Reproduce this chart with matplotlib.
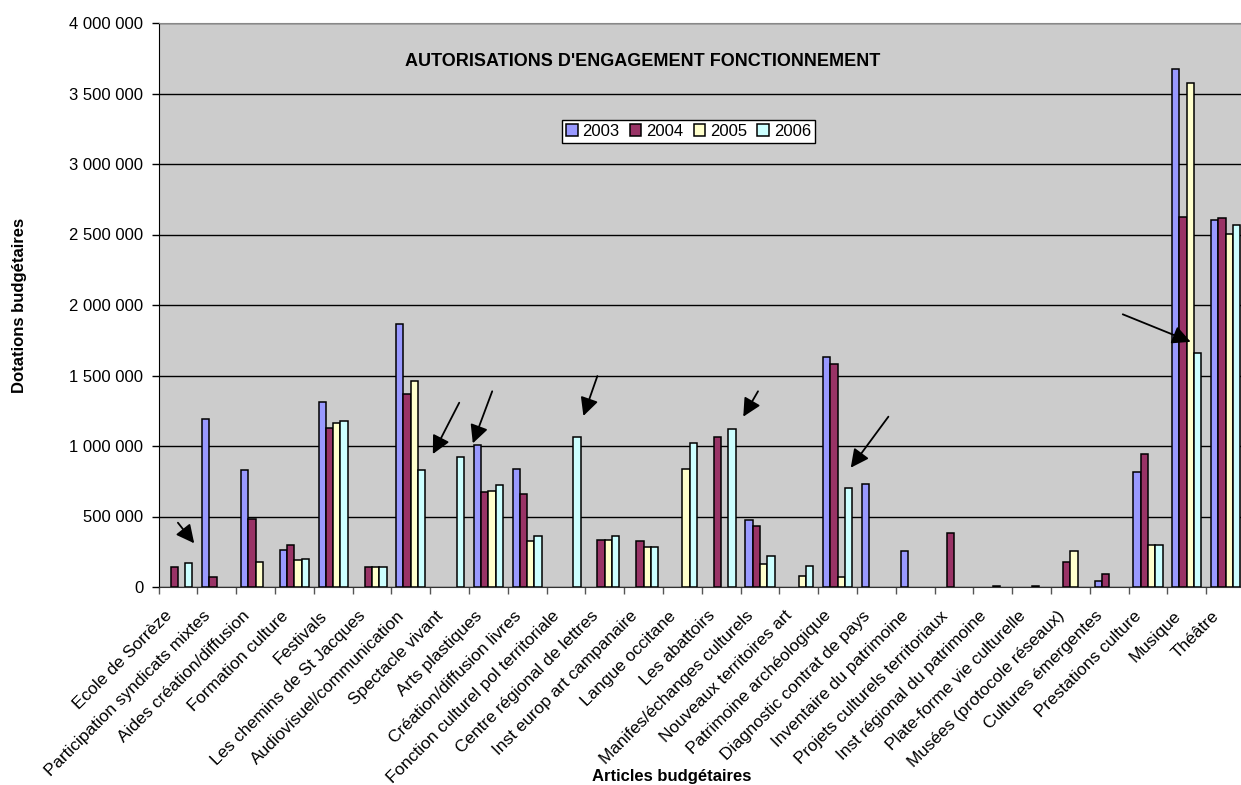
import matplotlib
matplotlib.use("Agg")
import matplotlib.pyplot as plt
from matplotlib.ticker import FuncFormatter
from matplotlib.transforms import ScaledTranslation
import numpy as np

plt.rcParams['font.family'] = ['Liberation Sans', 'DejaVu Sans']

# budget lines
categories = [
    "Ecole de Sorrèze", "Participation syndicats mixtes", "Aides création/diffusion",
    "Formation culture", "Festivals", "Les chemins de St Jacques",
    "Audiovisuel/communication", "Spectacle vivant", "Arts plastiques",
    "Création/diffusion livres", "Fonction culturel pol territoriale",
    "Centre régional de lettres", "Inst europ art campanaire", "Langue occitane",
    "Les abattoirs", "Manifes/échanges culturels", "Nouveaux territoires art",
    "Patrimoine archéologique", "Diagnostic contrat de pays",
    "Inventaire du patrimoine", "Projets culturels territoriaux",
    "Inst régional du patrimoine", "Plate-forme vie culturelle",
    "Musées (protocole réseaux)", "Cultures émergentes", "Prestations culture",
    "Musique", "Théâtre",
]
years = ["2003", "2004", "2005", "2006"]

v2003 = [0, 1189000, 830000, 265000, 1314000, 0, 1863000, 0, 1009000, 837000,
         0, 0, 0, 0, 0, 473000, 0, 1631000, 733000, 258000, 0, 0, 0, 0,
         46000, 815000, 3676000, 2603000]
v2004 = [144000, 71000, 485000, 298000, 1125000, 144000, 1371000, 0, 674000, 660000,
         0, 331000, 324000, 0, 1066000, 433000, 0, 1584000, 0, 0, 385000, 0, 0, 177000,
         91000, 942000, 2625000, 2620000]
v2005 = [0, 0, 180000, 189000, 1165000, 144000, 1459000, 0, 679000, 324000,
         0, 331000, 286000, 837000, 0, 161000, 78000, 71000, 0, 0, 0, 4000, 4000, 253000,
         0, 296000, 3577000, 2501000]
v2006 = [172000, 0, 0, 201000, 1180000, 144000, 827000, 924000, 726000, 364000,
         1064000, 359000, 286000, 1019000, 1123000, 222000, 147000, 704000, 0, 0, 0, 0, 0, 0,
         0, 296000, 1661000, 2570000]

colors = ["#9999FF", "#993366", "#FFFFCC", "#CCFFFF"]

# arrows drawn on the chart: (tail x, tail y, head x, head y) in data units
arrows = [
    (0.0, 456000, 0.42, 310000),
    (7.25, 1307000, 6.57, 943000),
    (8.10, 1388000, 7.60, 1019000),
    (10.81, 1496000, 10.45, 1213000),
    (14.95, 1388000, 14.57, 1208000),
    (18.31, 1208000, 17.34, 846000),
    (24.35, 1934000, 26.10, 1739000),
]

fig = plt.figure(figsize=(12.41, 7.85), dpi=100)
ax = fig.add_axes([158.5 / 1241, 198 / 785, (1245 - 158.5) / 1241, 564 / 785])
ax.set_facecolor("#CCCCCC")

x = np.arange(len(categories))
w = 0.188
for k, vals in enumerate([v2003, v2004, v2005, v2006]):
    vals = np.array(vals)
    keep = vals > 0  # empty lines get no bar at all
    ax.bar(x[keep] + (k - 1.5) * w, vals[keep], width=w, color=colors[k],
           edgecolor="black", linewidth=1.1, label=years[k], zorder=3)

ax.set_xlim(-0.5, len(categories) - 0.5)
ax.set_ylim(0, 4000000)
ax.set_yticks(np.arange(0, 4000001, 500000))
ax.yaxis.set_major_formatter(FuncFormatter(lambda v, p: f"{int(v):,}".replace(",", " ")))
ax.yaxis.grid(True, color="black", linewidth=1.0, zorder=1)
ax.set_axisbelow(True)

ax.set_xticks(np.arange(-0.5, len(categories), 1.0))
ax.set_xticklabels([])
ax.set_xticks(x, minor=True)
ax.set_xticklabels(categories, minor=True, rotation=45, ha="right", va="top",
                   rotation_mode="anchor", fontsize=12.4)
ax.tick_params(axis="x", which="minor", length=0, pad=8)
ax.tick_params(axis="x", which="major", length=5, width=1, color="#555555")
ax.tick_params(axis="y", length=5, width=1, labelsize=12, pad=6)

# nudge the slanted labels like the original
shift = ScaledTranslation(-14 / 100, -10 / 100, fig.dpi_scale_trans)
for lab in ax.get_xticklabels(minor=True):
    lab.set_transform(lab.get_transform() + shift)

ax.spines["right"].set_visible(False)
ax.spines["top"].set_color("#888888")
ax.spines["left"].set_color("black")
ax.spines["bottom"].set_color("#333333")

for tx, ty, hx, hy in arrows:
    ax.annotate("", xy=(hx, hy), xytext=(tx, ty),
                arrowprops=dict(arrowstyle="-|>,head_length=0.5,head_width=0.25",
                                mutation_scale=22, lw=1.3,
                                color="black", shrinkA=0, shrinkB=0), zorder=5)

fig.text(643 / 1241, 1 - 61.5 / 785, "AUTORISATIONS D'ENGAGEMENT FONCTIONNEMENT",
         fontsize=13, fontweight="bold", ha="center", va="center")

leg = ax.legend(loc="center", bbox_to_anchor=(688.5 / 1241, 1 - 131.6 / 785),
                bbox_transform=fig.transFigure, ncol=4, fontsize=12, frameon=True,
                fancybox=False, handlelength=0.7, handleheight=0.7, handletextpad=0.3,
                columnspacing=0.6, borderpad=0.25, borderaxespad=0)
leg.get_frame().set_edgecolor("black")
leg.get_frame().set_linewidth(1.0)
leg.get_frame().set_facecolor("white")
leg.get_frame().set_alpha(1)

fig.text(20 / 1241, 1 - 305 / 785, "Dotations budgétaires", rotation=90,
         fontsize=12, fontweight="bold", ha="center", va="center")
fig.text(672 / 1241, 1 - 776 / 785, "Articles budgétaires",
         fontsize=12, fontweight="bold", ha="center", va="center")

fig.savefig("out.png", dpi=100)
